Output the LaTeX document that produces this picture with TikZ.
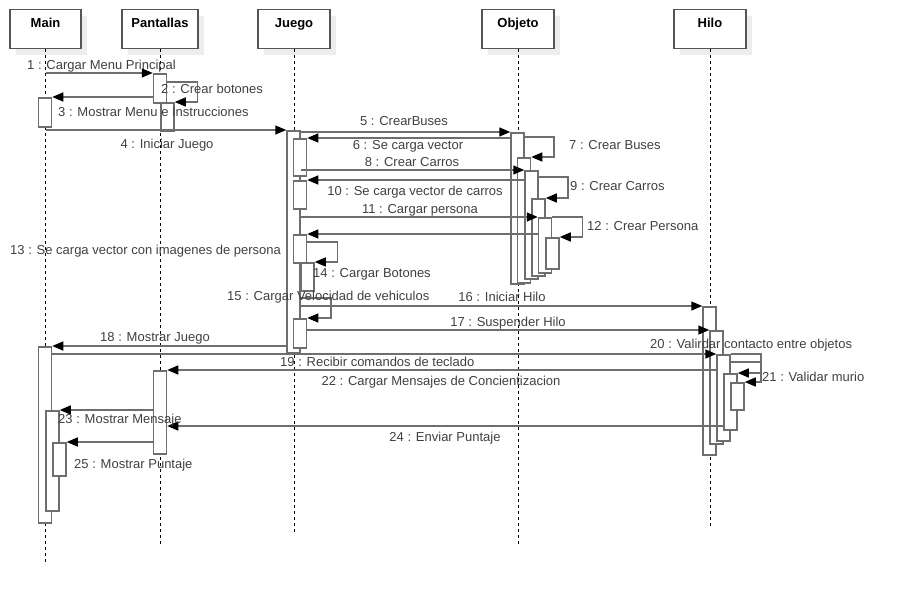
\documentclass[tikz,border=0pt]{standalone}
\usepackage{fontspec}
\setmainfont{Liberation Sans}
\usepackage{tikz}
\usetikzlibrary{arrows.meta,calc,shadows}

\definecolor{linegray}{RGB}{110,110,110}
\definecolor{boxgray}{RGB}{85,85,85}
\definecolor{txtgray}{RGB}{64,64,64}

\begin{document}
\begin{tikzpicture}[
    x=1pt, y=-1pt,
    hdr/.style={rectangle, draw=boxgray, fill=white, line width=1.4pt, anchor=north,
                minimum width=72pt, inner sep=0pt, text height=18pt, text depth=21pt,
                font=\fontsize{13}{15}\selectfont\bfseries,
                drop shadow={shadow xshift=6pt, shadow yshift=-6pt, fill=black!7, opacity=1}},
    life/.style={black, line width=1pt, dash pattern=on 3pt off 3pt},
    act/.style={rectangle, draw=linegray, fill=white, line width=1.5pt, anchor=north,
                minimum width=13pt, inner sep=0pt},
    msg/.style={draw=linegray, line width=1.5pt, -{Triangle[length=11pt,width=9pt,black]}},
    lbl/.style={font=\fontsize{13}{15}\selectfont, text=txtgray, inner sep=0pt,
                text height=9.5pt, text depth=2.7pt}
  ]
    \useasboundingbox (0,0) rectangle (901,602);

    %--- Lifelines ---
    \node[hdr, minimum width=71pt] (main)  at (45.5,9) {Main};
    \node[hdr, minimum width=76pt] (pant)  at (160,9)  {Pantallas};
    \node[hdr]                     (juego) at (294,9)  {Juego};
    \node[hdr]                     (obj)   at (518,9)  {Objeto};
    \node[hdr]                     (hilo)  at (710,9)  {Hilo};

    \draw[life] (main.south)  -- ++(0,514);
    \draw[life] (pant.south)  -- ++(0,497);
    \draw[life] (juego.south) -- ++(0,485);
    \draw[life] (obj.south)   -- ++(0,497);
    \draw[life] (hilo.south)  -- ++(0,479);

    %--- Activations ---
    \node[act, minimum height=29pt]  (m1) at (45,97)    {};
    \node[act, minimum height=176pt] (m2) at (45,346)   {};
    \node[act, minimum height=100pt] (m3) at (52.5,410) {};
    \node[act, minimum height=33pt]  (m4) at (59.5,442) {};

    \node[act, minimum height=29pt] (p1) at (160,73)    {};
    \node[act, minimum height=28pt] (p2) at (167.5,102) {};
    \node[act, minimum height=83pt] (p3) at (160,370)   {};

    \node[act, minimum height=222pt] (j1) at (293.5,130) {};
    \node[act, minimum height=37pt]  (j2) at (300,138)   {};
    \node[act, minimum height=28pt]  (j3) at (300,180)   {};
    \node[act, minimum height=28pt]  (j4) at (300,234)   {};
    \node[act, minimum height=28pt]  (j5) at (307.5,262) {};
    \node[act, minimum height=29pt]  (j6) at (300,318)   {};

    \node[act, minimum height=151pt] (o1) at (517.5,132) {};
    \node[act, minimum height=125pt] (o2) at (524,157)   {};
    \node[act, minimum height=108pt] (o3) at (531.5,170) {};
    \node[act, minimum height=77pt]  (o4) at (538.5,198) {};
    \node[act, minimum height=55pt]  (o5) at (545,217)   {};
    \node[act, minimum height=31pt]  (o6) at (552.5,237) {};

    \node[act, minimum height=148pt] (h1) at (709.5,306) {};
    \node[act, minimum height=113pt] (h2) at (716.5,330) {};
    \node[act, minimum height=86pt]  (h3) at (723.5,354) {};
    \node[act, minimum height=56pt]  (h4) at (730.5,373) {};
    \node[act, minimum height=27pt]  (h5) at (737.5,382) {};

    %--- Messages ---
    \draw[msg] (main.south |- p1.north) -- (p1.north west);
    \draw[msg] ($(p1.north east)+(0,9)$) -- ++(30,0) |- (p2.north east);
    \draw[msg] (p1.west |- m1.north) -- (m1.north east);
    \draw[msg] (main.south |- j1.north) -- (j1.north west);
    \draw[msg] (j1.east |- o1.north) -- (o1.north west);
    \draw[msg] (o1.west |- j2.north) -- (j2.north east);
    \draw[msg] ($(o1.north east)+(0,5)$) -- ++(29,0) |- (o2.north east);
    \draw[msg] (j1.east |- o3.north) -- (o3.north west);
    \draw[msg] ($(o3.north east)+(0,7)$) -- ++(29,0) |- (o4.north east);
    \draw[msg] (o3.west |- j3.north) -- (j3.north east);
    \draw[msg] (j1.east |- o5.north) -- (o5.north west);
    \draw[msg] (o5.north east) -- ++(30,0) |- (o6.north east);
    \draw[msg] (o5.west |- j4.north) -- (j4.north east);
    \draw[msg] ($(j4.north east)+(0,8)$) -- ++(30,0) |- (j5.north east);
    \draw[msg] ($(j1.east |- j6.north)+(0,-20)$) -- ++(30,0) |- (j6.north east);
    \draw[msg] (j1.east |- h1.north) -- (h1.north west);
    \draw[msg] (j6.east |- h2.north) -- (h2.north west);
    \draw[msg] (j1.west |- m2.north) -- (m2.north east);
    \draw[msg] (m2.east |- h3.north) -- (h3.north west);
    \draw[msg] (h3.north east) -- ++(30,0) |- (h4.north east);
    \draw[msg] ($(h3.north east)+(0,8)$) -- ++(30,0) |- (h5.north east);
    \draw[msg] (h3.west |- p3.north) -- (p3.north east);
    \draw[msg] (p3.west |- m3.north) -- (m3.north east);
    \coordinate (e24) at ($(p3.north east)+(0,56)$);
    \draw[msg] (h4.west |- e24) -- (e24);
    \draw[msg] (p3.west |- m4.north) -- (m4.north east);

    %--- Labels ---
    \node[lbl, anchor=west] (t1)  at (27,66)   {1 : Cargar Menu Principal};
    \node[lbl, anchor=west] (t2)  at (161,90)  {2 : Crear botones};
    \node[lbl, anchor=west] (t3)  at (58,113)  {3 : Mostrar Menu e Instrucciones};
    \node[lbl]              (t4)  at (167,145) {4 : Iniciar Juego};
    \node[lbl]              (t5)  at (404,122) {5 : CrearBuses};
    \node[lbl]              (t6)  at (408,146) {6 : Se carga vector};
    \node[lbl, anchor=west] (t7)  at (569,146) {7 : Crear Buses};
    \node[lbl]              (t8)  at (412,163) {8 : Crear Carros};
    \node[lbl, anchor=west] (t9)  at (570,187) {9 : Crear Carros};
    \node[lbl]              (t10) at (415,192) {10 : Se carga vector de carros};
    \node[lbl]              (t11) at (420,210) {11 : Cargar persona};
    \node[lbl, anchor=west] (t12) at (587,227) {12 : Crear Persona};
    \node[lbl, anchor=west] (t13) at (10,251)  {13 : Se carga vector con imagenes de persona};
    \node[lbl, anchor=west] (t14) at (313,274) {14 : Cargar Botones};
    \node[lbl, anchor=west] (t15) at (227,297) {15 : Cargar Velocidad de vehiculos};
    \node[lbl]              (t16) at (502,298) {16 : Iniciar Hilo};
    \node[lbl]              (t17) at (508,323) {17 : Suspender Hilo};
    \node[lbl]              (t18) at (155,338) {18 : Mostrar Juego};
    \node[lbl, anchor=west] (t19) at (280,363) {19 : Recibir comandos de teclado};
    \node[lbl, anchor=west] (t20) at (650,345) {20 : Valirdar contacto entre objetos};
    \node[lbl, anchor=west] (t21) at (762,378) {21 : Validar murio};
    \node[lbl]              (t22) at (441,382) {22 : Cargar Mensajes de Concientizacion};
    \node[lbl, anchor=west] (t23) at (58,420)  {23 : Mostrar Mensaje};
    \node[lbl]              (t24) at (445,438) {24 : Enviar Puntaje};
    \node[lbl, anchor=west] (t25) at (74,465)  {25 : Mostrar Puntaje};
  \end{tikzpicture}
\end{document}
